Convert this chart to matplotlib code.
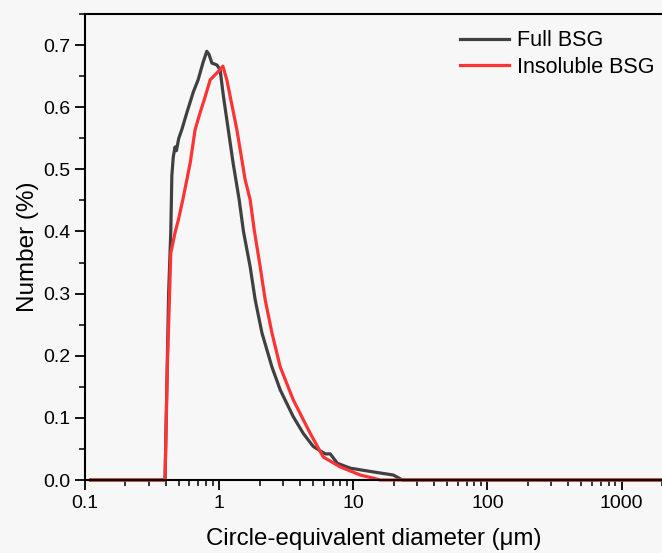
import matplotlib.pyplot as plt
from matplotlib.ticker import LogLocator, MultipleLocator, NullFormatter

plt.rcParams['font.family'] = ['Liberation Sans', 'DejaVu Sans']

# Particle size distribution (diameter in um, number in %)
full_d = [0.11, 0.395, 0.42, 0.436, 0.444, 0.455, 0.469, 0.48, 0.50, 0.527,
          0.574, 0.643, 0.697, 0.756, 0.809, 0.84, 0.883, 0.962, 1.017, 1.077,
          1.271, 1.41, 1.518, 1.703, 1.856, 2.083, 2.473, 2.853, 3.566, 4.236,
          5.026, 6.18, 6.73, 7.6, 9.5, 14.1, 19.9, 23.2, 2000]
full_n = [0.0, 0.0, 0.30, 0.40, 0.49, 0.52, 0.536, 0.53, 0.55, 0.564,
          0.591, 0.625, 0.644, 0.671, 0.69, 0.685, 0.671, 0.668, 0.66, 0.617,
          0.51, 0.451, 0.40, 0.343, 0.29, 0.237, 0.182, 0.145, 0.102, 0.075,
          0.054, 0.042, 0.042, 0.027, 0.019, 0.013, 0.008, 0.0, 0.0]

insol_d = [0.11, 0.395, 0.411, 0.436, 0.469, 0.497, 0.536, 0.608, 0.662, 0.721,
           0.787, 0.857, 0.962, 1.066, 1.141, 1.355, 1.563, 1.703, 1.824, 2.023,
           2.204, 2.473, 2.853, 3.566, 4.776, 5.97, 8.0, 11.27, 14.1, 15.9, 2000]
insol_n = [0.0, 0.0, 0.182, 0.365, 0.398, 0.419, 0.451, 0.51, 0.564, 0.591,
           0.617, 0.644, 0.655, 0.666, 0.644, 0.564, 0.483, 0.451, 0.403, 0.343,
           0.29, 0.237, 0.182, 0.129, 0.075, 0.037, 0.021, 0.008, 0.003, 0.0, 0.0]

bg = '#f7f7f7'
fig = plt.figure(figsize=(6.62, 5.53), dpi=100, facecolor=bg)
ax = fig.add_axes([0.1284, 0.132, 0.8716, 0.8427], facecolor=bg)

ax.plot(full_d, full_n, color='#404040', lw=2.3, label='Full BSG', clip_on=False)
ax.plot(insol_d, insol_n, color='#ff3333', lw=2.3, label='Insoluble BSG', clip_on=False)

ax.set_xscale('log')
ax.set_xlim(0.1, 2000)
ax.set_ylim(0, 0.75)
ax.xaxis.set_minor_locator(LogLocator(base=10, subs=range(2, 10)))
ax.xaxis.set_minor_formatter(NullFormatter())
ax.set_xticks([0.1, 1, 10, 100, 1000])
ax.set_xticklabels(['0.1', '1', '10', '100', '1000'])
ax.yaxis.set_major_locator(MultipleLocator(0.1))
ax.yaxis.set_minor_locator(MultipleLocator(0.05))
ax.yaxis.set_major_formatter(plt.FuncFormatter(lambda v, p: f'{v:.1f}'))

ax.spines['right'].set_visible(False)
for s in ['left', 'bottom', 'top']:
    ax.spines[s].set_linewidth(1.5)
ax.tick_params(which='major', direction='out', length=7, width=1.3, labelsize=14,
               top=False, right=False)
ax.tick_params(which='minor', direction='out', length=4, width=1.1,
               top=False, right=False)

ax.set_xlabel('Circle-equivalent diameter (\u03bcm)', fontsize=17.3, labelpad=12)
ax.set_ylabel('Number (%)', fontsize=17.5, labelpad=3)

fig.legend(loc='upper left', bbox_to_anchor=(0.665, 0.98), frameon=False,
           fontsize=15.5, handlelength=2.3, handletextpad=0.35, labelspacing=0.25)

fig.savefig('out.png', dpi=100, facecolor=bg)
